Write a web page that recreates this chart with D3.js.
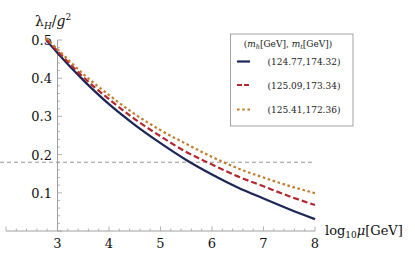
<!DOCTYPE html>
<html>
<head>
<meta charset="utf-8">
<script src="https://cdn.jsdelivr.net/npm/d3@7"></script>
<style>
  html, body { margin: 0; padding: 0; background: #fff; }
</style>
</head>
<body>
<svg id="chart" width="415" height="259"></svg>
<script>
// ---- data ----
const mu = [2.78, 3, 3.5, 4, 4.5, 5, 5.5, 6, 6.5, 7, 7.5, 8];
const seriesBlue   = [0.500, 0.466, 0.395, 0.332, 0.278, 0.230, 0.186, 0.148, 0.114, 0.085, 0.057, 0.031];
const seriesRed    = [0.502, 0.471, 0.403, 0.345, 0.293, 0.248, 0.207, 0.174, 0.143, 0.117, 0.091, 0.068];
const seriesOrange = [0.505, 0.476, 0.411, 0.356, 0.306, 0.264, 0.228, 0.194, 0.164, 0.140, 0.118, 0.099];
const seriesNames = ["(124.77,174.32)", "(125.09,173.34)", "(125.41,172.36)"];
const xTicks = [3, 4, 5, 6, 7, 8];
const yTicks = [0.1, 0.2, 0.3, 0.4, 0.5];
const refLine = 0.18;

const FONT = "DejaVu Serif, serif";
const svg = d3.select("#chart");
const x = d3.scaleLinear().domain([3, 8]).range([57.5, 315]);
const y = d3.scaleLinear().domain([0, 0.5]).range([231, 40]);
const axisColor = "#a0a0a0";

// dashed reference line
svg.append("line")
  .attr("x1", 0).attr("x2", x(8))
  .attr("y1", y(refLine)).attr("y2", y(refLine))
  .attr("stroke", "#8a8a8a").attr("stroke-width", 0.9)
  .attr("stroke-dasharray", "4,3");

// x axis
const xAxisG = svg.append("g");
xAxisG.append("line")
  .attr("x1", x(2)).attr("x2", x(8)).attr("y1", y(0)).attr("y2", y(0))
  .attr("stroke", axisColor).attr("stroke-width", 1);
const xMinor = d3.range(2, 8.001, 0.2).map(v => +v.toFixed(2));
xAxisG.selectAll("line.xt").data(xMinor).enter().append("line")
  .attr("x1", d => x(d)).attr("x2", d => x(d))
  .attr("y1", y(0))
  .attr("y2", d => y(0) - (Math.abs(d - Math.round(d)) < 1e-6 ? 4.5 : 2.5))
  .attr("stroke", axisColor).attr("stroke-width", 0.8);
xAxisG.selectAll("text").data(xTicks).enter().append("text")
  .attr("x", d => x(d)).attr("y", 247.5)
  .style("font-family", FONT)
  .attr("text-anchor", "middle").attr("font-size", 13).attr("fill", "#111")
  .text(d => d);

// y axis
const yAxisG = svg.append("g");
yAxisG.append("line")
  .attr("x1", x(3)).attr("x2", x(3)).attr("y1", y(0)).attr("y2", y(0.5))
  .attr("stroke", axisColor).attr("stroke-width", 1);
const yMinor = d3.range(0, 0.5001, 0.02).map(v => +v.toFixed(3));
yAxisG.selectAll("line.yt").data(yMinor).enter().append("line")
  .attr("y1", d => y(d)).attr("y2", d => y(d))
  .attr("x1", x(3))
  .attr("x2", d => x(3) + (Math.abs(d * 10 - Math.round(d * 10)) < 1e-6 ? 4.5 : 2.5))
  .attr("stroke", axisColor).attr("stroke-width", 0.8);
yAxisG.selectAll("text").data(yTicks).enter().append("text")
  .attr("x", 52).attr("y", d => y(d) + 5)
  .style("font-family", FONT)
  .attr("text-anchor", "end").attr("font-size", 13).attr("fill", "#111")
  .text(d => d.toFixed(1));

// curves
const line = d3.line().x((d, i) => x(mu[i])).y(d => y(d)).curve(d3.curveMonotoneX);
const styles = [
  { data: seriesBlue,   color: "#1c2657", dash: null },
  { data: seriesRed,    color: "#b3272f", dash: "6,3" },
  { data: seriesOrange, color: "#c27d2c", dash: "2.6,2.6" }
];
styles.forEach(s => {
  svg.append("path").datum(s.data)
    .attr("d", line)
    .attr("fill", "none").attr("stroke", s.color).attr("stroke-width", 2.2)
    .attr("stroke-dasharray", s.dash);
});

// axis labels
const yl = svg.append("text").attr("x", 35).attr("y", 26).attr("font-size", 14).attr("fill", "#111")
  .style("font-family", FONT);
yl.append("tspan").text("λ");
yl.append("tspan").attr("font-size", 9).attr("font-style", "italic").attr("dy", 3).text("H");
yl.append("tspan").attr("dy", -3).text("/");
yl.append("tspan").attr("font-style", "italic").text("g");
yl.append("tspan").attr("font-size", 9).attr("dy", -6).text("2");

const xl = svg.append("text").attr("x", 325).attr("y", 235).attr("font-size", 13).attr("fill", "#111")
  .style("font-family", FONT);
xl.append("tspan").text("log");
xl.append("tspan").attr("font-size", 9).attr("dy", 3).text("10");
xl.append("tspan").attr("dy", -3).attr("font-style", "italic").text("μ");
xl.append("tspan").text("[GeV]");

// legend
const lg = svg.append("g");
lg.append("rect").attr("x", 230.5).attr("y", 34).attr("width", 122.5).attr("height", 92)
  .attr("fill", "#fff").attr("stroke", "#9a9a9a").attr("stroke-width", 0.9);
const lt = lg.append("text").attr("x", 288).attr("y", 47).attr("text-anchor", "middle")
  .style("font-family", FONT)
  .attr("font-size", 9).attr("fill", "#222");
lt.append("tspan").text("(");
lt.append("tspan").attr("font-style", "italic").text("m");
lt.append("tspan").attr("font-size", 6.5).attr("font-style", "italic").attr("dy", 2).text("h");
lt.append("tspan").attr("dy", -2).text("[GeV], ");
lt.append("tspan").attr("font-style", "italic").text("m");
lt.append("tspan").attr("font-size", 6.5).attr("font-style", "italic").attr("dy", 2).text("t");
lt.append("tspan").attr("dy", -2).text("[GeV])");
const rowY = [61.5, 85, 109.5];
styles.forEach((s, i) => {
  lg.append("line").attr("x1", 237).attr("x2", 250).attr("y1", rowY[i]).attr("y2", rowY[i])
    .attr("stroke", s.color).attr("stroke-width", 2.2)
    .attr("stroke-dasharray", i === 0 ? null : (i === 1 ? "5,2" : "2.6,2.6"));
  lg.append("text").attr("x", 304).attr("y", rowY[i] + 3.5).attr("text-anchor", "middle")
    .style("font-family", FONT)
    .attr("font-size", 9).attr("fill", "#222").text(seriesNames[i]);
});
</script>
</body>
</html>
